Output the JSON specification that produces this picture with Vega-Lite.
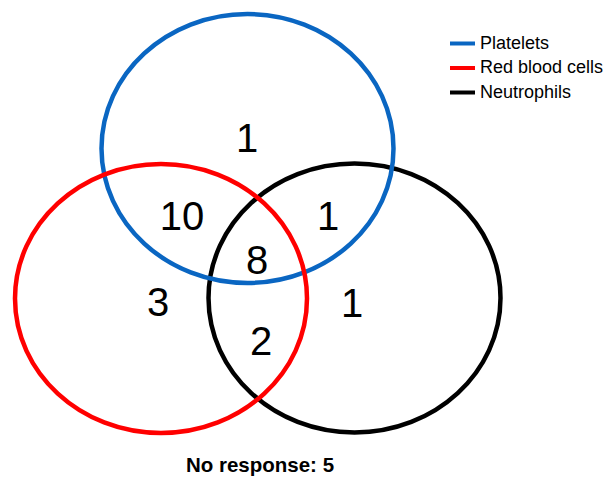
{
  "$schema": "https://vega.github.io/schema/vega-lite/v6.json",
  "width": 605,
  "height": 477,
  "padding": 0,
  "autosize": {"type": "fit", "contains": "padding"},
  "background": "white",
  "config": {"view": {"stroke": null}},
  "layer": [
    {
      "data": {"values": [
        {"set": "Neutrophils", "cx": 354.5, "cy": 298},
        {"set": "Platelets", "cx": 247.5, "cy": 148.5},
        {"set": "Red blood cells", "cx": 161, "cy": 298.5}
      ]},
      "mark": {
        "type": "point",
        "filled": false,
        "opacity": 1,
        "strokeWidth": 4.5,
        "size": 85264,
        "shape": "M -1 0 A 1 0.921 0 1 0 1 0 A 1 0.921 0 1 0 -1 0 Z"
      },
      "encoding": {
        "x": {"field": "cx", "type": "quantitative", "scale": {"domain": [0, 605], "nice": false, "zero": false}, "axis": null},
        "y": {"field": "cy", "type": "quantitative", "scale": {"domain": [0, 477], "nice": false, "zero": false, "reverse": true}, "axis": null},
        "color": {
          "field": "set",
          "type": "nominal",
          "scale": {"domain": ["Platelets", "Red blood cells", "Neutrophils"], "range": ["#0A66C2", "#FF0000", "#000000"]},
          "legend": {
            "title": null,
            "orient": "none",
            "legendX": 448,
            "legendY": 29,
            "symbolType": "stroke",
            "symbolSize": 625,
            "symbolStrokeWidth": 4,
            "labelFont": "Liberation Sans",
            "labelFontSize": 18,
            "labelColor": "#000000",
            "labelOffset": 3,
            "rowPadding": 0.5,
            "padding": 0
          }
        }
      }
    },
    {
      "data": {"values": [
        {"region": "Platelets only", "count": 1, "cx": 247, "cy": 140},
        {"region": "Platelets & Red blood cells", "count": 10, "cx": 182, "cy": 218},
        {"region": "Platelets & Neutrophils", "count": 1, "cx": 328, "cy": 218},
        {"region": "All three", "count": 8, "cx": 257, "cy": 262},
        {"region": "Red blood cells only", "count": 3, "cx": 158, "cy": 304},
        {"region": "Neutrophils only", "count": 1, "cx": 352, "cy": 305},
        {"region": "Red blood cells & Neutrophils", "count": 2, "cx": 261, "cy": 343}
      ]},
      "mark": {"type": "text", "font": "Liberation Sans", "fontSize": 40, "align": "center", "baseline": "middle", "color": "#000000"},
      "encoding": {
        "x": {"field": "cx", "type": "quantitative"},
        "y": {"field": "cy", "type": "quantitative"},
        "text": {"field": "count", "type": "quantitative"}
      }
    },
    {
      "data": {"values": [{"label": "No response: 5", "cx": 260, "cy": 466}]},
      "mark": {"type": "text", "font": "Liberation Sans", "fontSize": 20.5, "fontWeight": "bold", "align": "center", "baseline": "middle", "color": "#000000"},
      "encoding": {
        "x": {"field": "cx", "type": "quantitative"},
        "y": {"field": "cy", "type": "quantitative"},
        "text": {"field": "label", "type": "nominal"}
      }
    }
  ]
}
